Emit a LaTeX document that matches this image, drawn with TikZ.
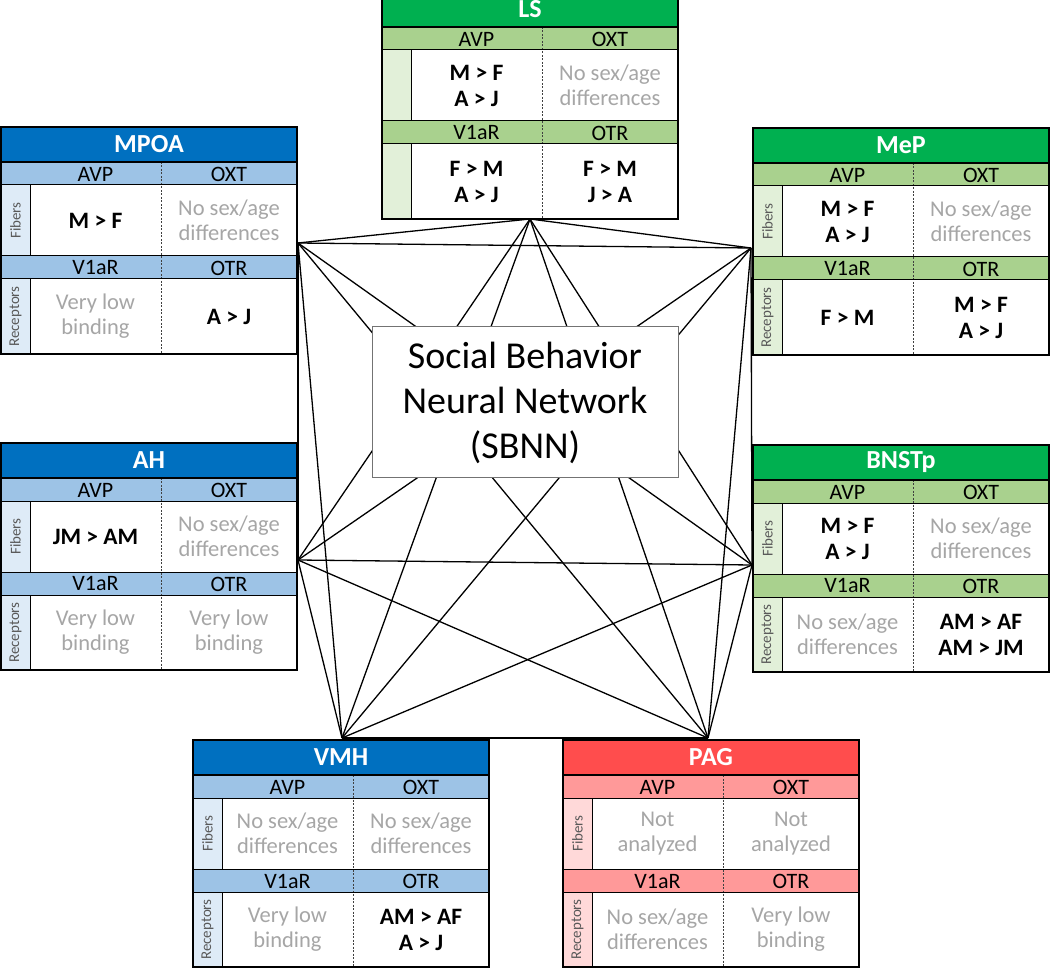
\documentclass[tikz,border=0pt]{standalone}
\usepackage{fontspec}
\setmainfont{Carlito}
\definecolor{blueT}{HTML}{0070C0}
\definecolor{blueH}{HTML}{9DC3E6}
\definecolor{blueS}{HTML}{DEEBF7}
\definecolor{greenT}{HTML}{00B050}
\definecolor{greenH}{HTML}{A9D18E}
\definecolor{greenS}{HTML}{E2F0D9}
\definecolor{redT}{HTML}{FF4D4D}
\definecolor{redH}{HTML}{FF9999}
\definecolor{redS}{HTML}{FFD9D9}
\definecolor{graytxt}{HTML}{A6A6A6}
\definecolor{sidetxt}{HTML}{595959}
\tikzset{
 ttl/.style={text=white, font=\fontsize{26}{26}\selectfont\bfseries, draw=black, line width=1.2pt,
   minimum width=296pt, minimum height=35pt, inner sep=0pt},
 hdt/.style={font=\fontsize{22}{22}\selectfont, inner sep=0pt},
 cmp/.style={font=\fontsize{23.5}{26}\selectfont\bfseries, align=center, inner sep=0pt},
 ndf/.style={font=\fontsize{22.5}{25}\selectfont, text=graytxt, align=center, inner sep=0pt},
 sidelbl/.style={font=\fontsize{15}{15}\selectfont, text=sidetxt, rotate=90, inner sep=0pt},
 frame/.style={draw=black, line width=1.2pt},
 rowline/.style={draw=black, line width=1pt},
 divider/.style={draw=black!75, line width=1pt, dash pattern=on 2pt off 1.5pt},
 link/.style={draw=black, line width=1.3pt},
 hub/.style={draw=black!55, fill=white, line width=1pt, minimum width=306pt, minimum height=151pt,
   font=\fontsize{38}{45}\selectfont, align=center, inner sep=0pt},
}
% #1 name, #2 origin, #3 title, #4 colour prefix, #5-#8 cells, #9 side labels (1/0)
\newcommand{\rbox}[9]{%
\begin{scope}[shift={(#2)}]
 \fill[#4H] (0,35) rectangle (296,58);
 \fill[#4S] (0,58) rectangle (29,129);
 \fill[white] (29,58) rectangle (296,129);
 \fill[#4H] (0,129) rectangle (296,152);
 \fill[#4S] (0,152) rectangle (29,227);
 \fill[white] (29,152) rectangle (296,227);
 \draw[divider] (160,35) -- (160,227);
 \draw[rowline] (0,58) -- (296,58) (0,129) -- (296,129) (0,152) -- (296,152)
   (29,58) -- (29,129) (29,152) -- (29,227);
 \draw[frame] (0,0) rectangle (296,227);
 \node[ttl, fill=#4T] (#1) at (148,17.5) {#3};
 \node[hdt] (#1-avp) at (94.5,47) {AVP};
 \node[hdt] (#1-oxt) at (228,47) {OXT};
 \node[hdt] (#1-v1ar) at (94.5,141) {V1aR};
 \node[hdt] (#1-otr) at (228,141) {OTR};
 \ifnum#9=1
 \node[sidelbl] (#1-fib) at (14.5,93.5) {Fibers};
 \node[sidelbl] (#1-rec) at (14.5,189.5) {Receptors};
 \fi
 \node (#1-c1) at (94.5,93.5) #5;
 \node (#1-c2) at (228,93.5) #6;
 \node (#1-c3) at (94.5,189.5) #7;
 \node (#1-c4) at (228,189.5) #8;
\end{scope}}
\begin{document}
\begin{tikzpicture}[x=1pt,y=-1pt]
\useasboundingbox (0,0) rectangle (1050,973);
\clip (0,0) rectangle (1050,973);
% network hubs
\coordinate (nLS) at (530,219);
\coordinate (nMPOA) at (298,243);
\coordinate (nMeP) at (751,248);
\coordinate (nAH) at (298,560);
\coordinate (nBNST) at (752,565);
\coordinate (nVMH) at (342,738);
\coordinate (nPAG) at (708,738);
\foreach \a/\b in {LS/MPOA, LS/MeP, LS/AH, LS/BNST, LS/VMH, LS/PAG,
  MPOA/MeP, MPOA/AH, MPOA/BNST, MPOA/VMH, MPOA/PAG,
  MeP/AH, MeP/BNST, MeP/VMH, MeP/PAG,
  AH/BNST, AH/VMH, AH/PAG, BNST/VMH, BNST/PAG, VMH/PAG}
  \draw[link] (n\a) -- (n\b);
\node[hub] (sbnn) at (525,402.5) {Social Behavior\\Neural Network\\(SBNN)};
% region boxes
\rbox{LS}{382,-8}{LS}{green}
 {[cmp]{M > F\\A > J}}{[ndf]{No sex/age\\differences}}
 {[cmp]{F > M\\A > J}}{[cmp]{F > M\\J > A}}{0}
\rbox{MPOA}{1,127}{MPOA}{blue}
 {[cmp]{M > F}}{[ndf]{No sex/age\\differences}}
 {[ndf]{Very low\\binding}}{[cmp]{A > J}}{1}
\rbox{MeP}{753,128}{MeP}{green}
 {[cmp]{M > F\\A > J}}{[ndf]{No sex/age\\differences}}
 {[cmp]{F > M}}{[cmp]{M > F\\A > J}}{1}
\rbox{AH}{1,443}{AH}{blue}
 {[cmp]{JM > AM}}{[ndf]{No sex/age\\differences}}
 {[ndf]{Very low\\binding}}{[ndf]{Very low\\binding}}{1}
\rbox{BNSTp}{753,445}{BNSTp}{green}
 {[cmp]{M > F\\A > J}}{[ndf]{No sex/age\\differences}}
 {[ndf]{No sex/age\\differences}}{[cmp]{AM > AF\\AM > JM}}{1}
\rbox{VMH}{193,740}{VMH}{blue}
 {[ndf]{No sex/age\\differences}}{[ndf]{No sex/age\\differences}}
 {[ndf]{Very low\\binding}}{[cmp]{AM > AF\\A > J}}{1}
\rbox{PAG}{563,740}{PAG}{red}
 {[ndf]{Not\\analyzed}}{[ndf]{Not\\analyzed}}
 {[ndf]{No sex/age\\differences}}{[ndf]{Very low\\binding}}{1}
\end{tikzpicture}
\end{document}
